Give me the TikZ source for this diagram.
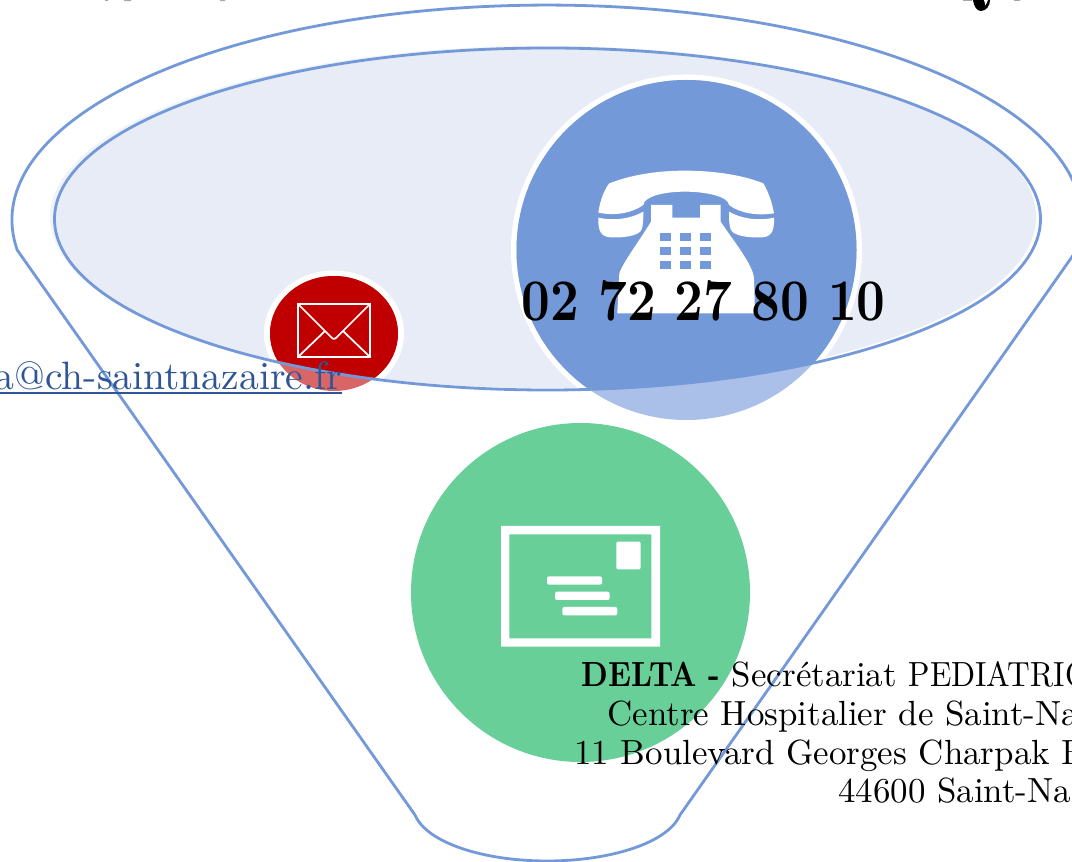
\documentclass[tikz,border=0pt]{standalone}
\usepackage{fontspec}
\usepackage{graphicx}
\setmainfont{lmroman10-regular}[Extension=.otf,BoldFont=lmroman10-bold]
\definecolor{lineblue}{HTML}{7499D9}
\definecolor{paleblue}{HTML}{ABC0E8}
\definecolor{fillin}{HTML}{E8ECF7}
\definecolor{fillout}{HTML}{F0F3FA}
\definecolor{mailred}{HTML}{C00000}
\definecolor{palered}{HTML}{D96666}
\definecolor{postgreen}{HTML}{67CF97}
\definecolor{linkblue}{HTML}{2F5597}
\tikzset{
  funnelline/.style={draw=lineblue,line width=2.1pt},
  bodytext/.style={anchor=base west,inner sep=0pt,font=\fontsize{26.2}{30}\selectfont},
  icon/.style={fill=white,draw=none},
  keypad/.style={fill=lineblue,draw=none}
}
\newcommand{\lineellipse}{(547.5,219) ellipse [x radius=493,y radius=171]}
\begin{document}
\begin{tikzpicture}[x=0.75pt,y=-0.75pt]
\useasboundingbox (0,0) rectangle (1072,862);
\clip (0,0) rectangle (1072,862);
\fill[white] (0,0) rectangle (1072,862);
% clipped title fragments
\fill[black] (973,0) .. controls (974,7) and (977,11) .. (981,11) .. controls (986,11) and (990,6) .. (990,0) -- cycle;
\fill[white] (984,0) -- (985.5,5.5) -- (988,0) -- cycle;
\fill[gray!70] (124,0) rectangle (131,1.2) (220,0) rectangle (225,1.2) (105,0) rectangle (108,.8) (963,0) rectangle (972,1) (1014,0) rectangle (1020,1);
% funnel
\draw[funnelline,line join=round]
  (17.2,250) arc [start angle=172,end angle=368,x radius=535,y radius=215]
  -- (680,815) .. controls (668,843) and (610,861) .. (547,861)
  .. controls (484,861) and (427,843) .. (415,815) -- cycle;
% pale inner ellipse
\fill[fillout] (543,217) ellipse [x radius=493,y radius=171];
\begin{scope}
  \clip \lineellipse;
  \fill[fillin] (543,217) ellipse [x radius=493,y radius=171];
  \fill[white] (334,333.5) ellipse [x radius=70,y radius=63];
  \fill[white] (686.5,250) circle [radius=175.5];
\end{scope}
% circles, paler outside the ellipse
\fill[palered] (334,333.5) ellipse [x radius=64,y radius=57.5];
\fill[paleblue] (686.5,250) circle [radius=170];
\begin{scope}
  \clip \lineellipse;
  \fill[mailred] (334,333.5) ellipse [x radius=64,y radius=57.5];
  \fill[lineblue] (686.5,250) circle [radius=170];
\end{scope}
\draw[funnelline] \lineellipse;
% mail envelope
\draw[white,line width=1.3pt,line join=miter] (298,304) rectangle (370,357);
\draw[white,line width=1.3pt,line join=round] (298,304) -- (331,337) .. controls (333,339.5) and (335,339.5) .. (337,337) -- (370,304);
\draw[white,line width=1.3pt] (298,357) -- (325,331) (370,357) -- (343,331);
% telephone
\begin{scope}[shift={(560,150)},x=0.25pt,y=-0.25pt]
  \fill[icon] (115,188) .. controls (120,150) and (135,115) .. (148,100)
    .. controls (220,72) and (300,62) .. (375,62) .. controls (450,62) and (540,72) .. (610,100)
    .. controls (625,125) and (637,160) .. (642,190) .. controls (590,198) and (540,190) .. (507,165)
    .. controls (505,140) and (440,125) .. (375,125) .. controls (310,125) and (252,140) .. (250,165)
    .. controls (215,190) and (165,198) .. (115,188) -- cycle;
  \fill[icon] (115,203) .. controls (165,214) and (215,205) .. (250,185)
    .. controls (250,205) and (250,225) .. (245,238) .. controls (238,258) and (190,264) .. (150,262)
    .. controls (125,260) and (113,245) .. (115,203) -- cycle;
  \fill[icon] (642,203) .. controls (592,214) and (542,205) .. (507,185)
    .. controls (507,205) and (507,225) .. (512,238) .. controls (519,258) and (567,264) .. (607,262)
    .. controls (632,260) and (644,245) .. (642,203) -- cycle;
  \fill[icon] (273,165) -- (337,165) -- (337,203) -- (420,203) -- (420,165) -- (482,165) -- (482,215)
    .. controls (515,265) and (580,345) .. (582,385) -- (585,490) -- (172,490) -- (178,370)
    .. controls (190,335) and (240,270) .. (273,215) -- cycle;
  \foreach \kx in {300,360,419}
    \foreach \ky/\kh in {248/24,291/24,333/23}
      \fill[keypad] (\kx,\ky) rectangle ++(34,\kh);
\end{scope}
% post card
\fill[postgreen] (580.5,592.5) circle [radius=169.5];
\begin{scope}[shift={(480,510)},x=0.25pt,y=-0.25pt]
  \fill[icon,even odd rule] (63,48) rectangle (540,410) (88,73) rectangle (514,385);
  \fill[icon,rounded corners=1pt] (409,95) rectangle (482,178);
  \fill[icon,rounded corners=1.5pt] (201,199) rectangle (366,224);
  \fill[icon,rounded corners=1.5pt] (225,245) rectangle (389,270);
  \fill[icon,rounded corners=1.5pt] (247,291) rectangle (412,316);
\end{scope}
% texts
\node[anchor=base east,inner sep=0pt,font=\bfseries\fontsize{37.5}{45}\selectfont] (phone) at (886,321) {\scalebox{1}[1.18]{02 72 27 80 10}};
\node[anchor=base east,inner sep=0pt,text=linkblue,font=\fontsize{29.7}{36}\selectfont] (mail) at (342,390) {a@ch-saintnazaire.fr};
\coordinate (ulstart) at (0,393.5);
\coordinate (ulend) at (342,393.5);
\draw[linkblue,line width=1.5pt] (ulstart) -- (ulend);
\node[bodytext] (l1) at (581,687) {\scalebox{.87}[1]{\textbf{DELTA -}} Secrétariat \scalebox{.9}[1]{PEDIATRIQUE}};
\node[bodytext] (l2) at (607,726) {Centre Hospitalier de Saint-Nazaire};
\node[bodytext] (l3) at (574,764) {11 Boulevard Georges Charpak BP};
\node[bodytext] (l4) at (838,802) {44600 Saint-Nazaire};
\end{tikzpicture}
\end{document}
